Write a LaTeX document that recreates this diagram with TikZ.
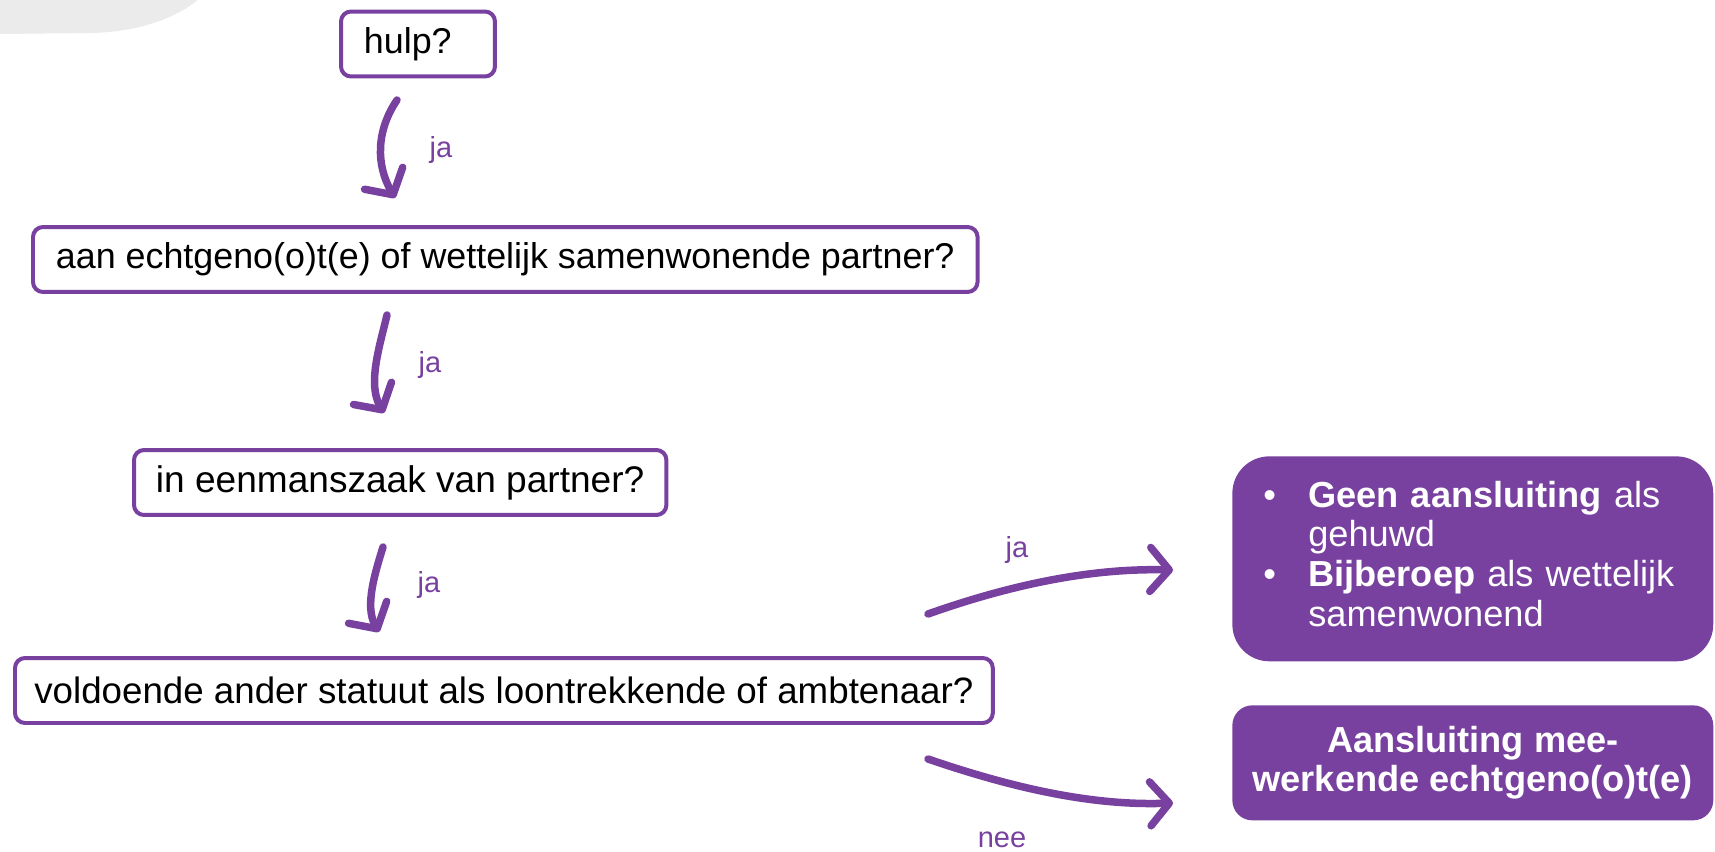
\documentclass[tikz,border=0pt]{standalone}
\usepackage{fontspec}
\setmainfont{Liberation Sans}
\usetikzlibrary{arrows.meta}
\definecolor{paars}{RGB}{120,65,160}
\definecolor{grijs}{RGB}{235,235,235}

\begin{document}
\begin{tikzpicture}[
            x=0.02cm,y=-0.02cm,
            ques/.style={
                    draw=paars,
                    line width=0.08cm,
                    rounded corners=0.2cm,
                    fill=white,
                    inner xsep=0.46cm,
                    minimum height=1.3cm,
                    anchor=west,
                    font=\fontsize{20.4}{24}\selectfont
                },
            res/.style={
                    fill=paars,
                    text=white,
                    anchor=north west,
                    font=\fontsize{20.6}{22.5}\selectfont
                },
            lbl/.style={
                    text=paars,
                    inner sep=0pt,
                    font=\fontsize{16.5}{20}\selectfont
                },
            arr/.style={
                    draw=paars,
                    line width=0.15cm,
                    line cap=round,
                    -{Straight Barb[length=0.38cm,width=0.88cm,round]}
                }
        ]
        \useasboundingbox (0,0) rectangle (1715,852);
        \fill[grijs] (0,0) -- (0,34) -- (90,33) .. controls (140,32) and (175,18) .. (198,0) -- cycle;

        \node[ques,text width=2.16cm,align=left] (hulp) at (339,44) {hulp?};
        \node[ques] (aan) at (31,259.5) {aan echtgeno(o)t(e) of wettelijk samenwonende partner?};
        \node[ques,inner xsep=0.44cm,font=\fontsize{21.1}{24}\selectfont] (eenmans) at (132,482.5)
        {in eenmanszaak van partner?};
        \node[ques,inner xsep=0.36cm,minimum width=19.56cm,font=\fontsize{20.9}{24}\selectfont] (statuut) at (13,690.5)
        {voldoende ander statuut als loontrekkende of ambtenaar?};

        \node[res,rounded corners=0.74cm,minimum height=4.1cm,text width=8.38cm,inner xsep=0.62cm,align=left] (geen) at (1232,456)
        {\begin{tabular}{@{}p{0.9cm}@{}l@{}}
                \textbullet & \textbf{Geen aansluiting} als \\
                            & gehuwd                       \\
                \textbullet & \textbf{Bijberoep} als wettelijk \\
                            & samenwonend
            \end{tabular}};
        \node[res,rounded corners=0.4cm,minimum width=9.62cm,minimum height=2.3cm,align=center,
            font=\fontsize{20.6}{22.5}\selectfont\bfseries] (mee) at (1232,705)
        {Aansluiting mee-\\werkende echtgeno(o)t(e)};

        \coordinate (a1) at (397,100);
        \coordinate (b1) at (395,198);
        \coordinate (a2) at (387,315);
        \coordinate (b2) at (384,413);
        \coordinate (a3) at (383,547);
        \coordinate (b3) at (379,632);
        \coordinate (a4) at (928,614);
        \coordinate (b4) at (1173,570);
        \coordinate (a5) at (928,759);
        \coordinate (b5) at (1173,803);

        \draw[arr] (a1) .. controls (376,131) and (376,165) .. (b1);
        \draw[arr] (a2) .. controls (380,345) and (367,384) .. (b2);
        \draw[arr] (a3) .. controls (376,570) and (364,606) .. (b3);
        \draw[arr] (a4) .. controls (1010,585) and (1090,568) .. (b4);
        \draw[arr] (a5) .. controls (1010,787) and (1090,806) .. (b5);

        \node[lbl] (ja1) at (441,150) {ja};
        \node[lbl] (ja2) at (430,365) {ja};
        \node[lbl] (ja3) at (429,585) {ja};
        \node[lbl] (ja4) at (1017,550) {ja};
        \node[lbl] (nee) at (1002,840) {nee};
    \end{tikzpicture}
\end{document}
